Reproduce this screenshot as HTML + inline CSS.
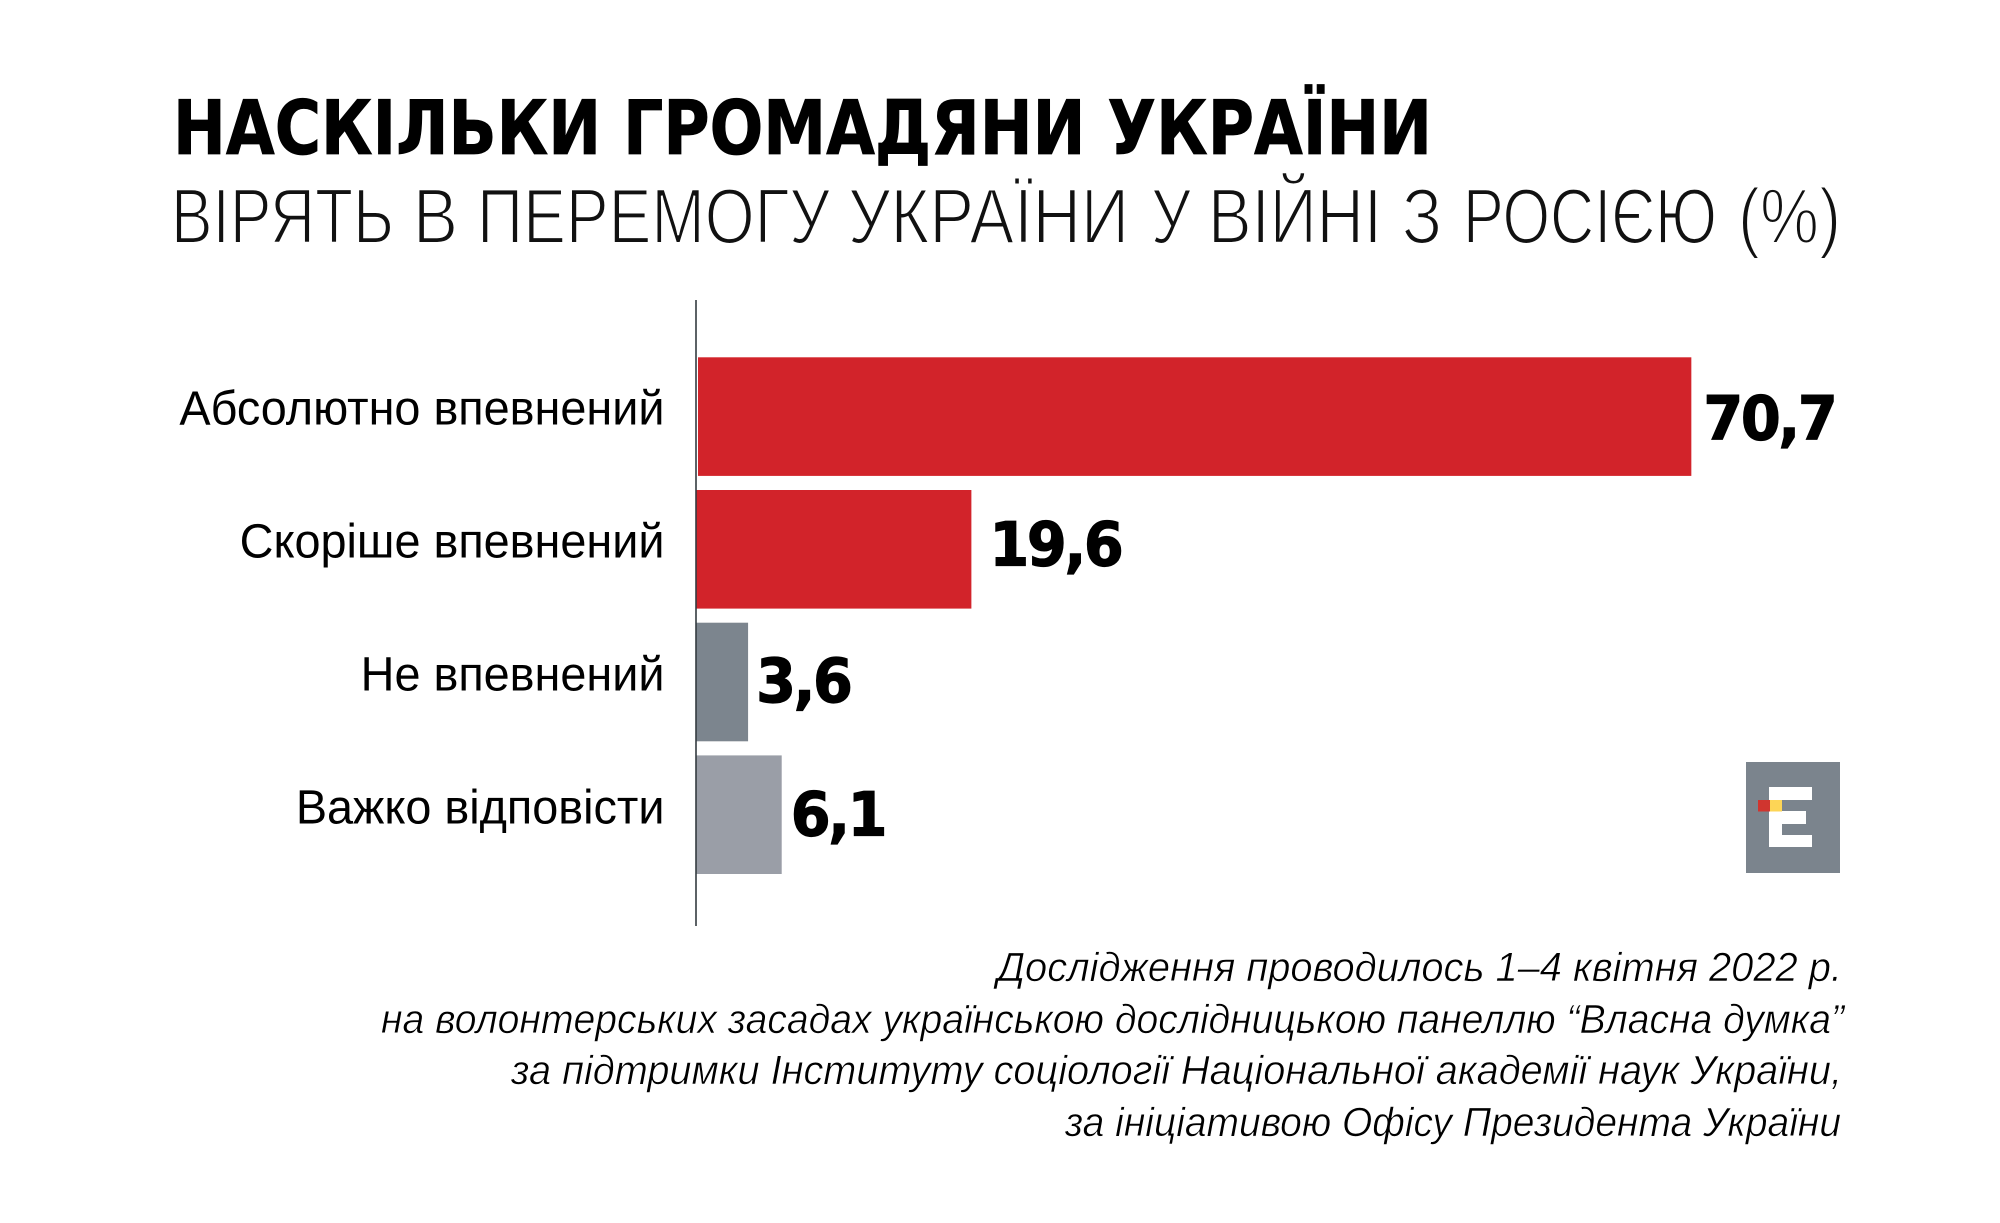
<!DOCTYPE html>
<html lang="uk">
<head>
<meta charset="utf-8">
<title>Наскільки громадяни України вірять в перемогу</title>
<style>
  html, body { margin: 0; padding: 0; background: #fff; }
  svg { display: block; }
  .title { font-family: "DejaVu Sans", "Liberation Sans", sans-serif; font-weight: 700; font-size: 75px; fill: #000; stroke: #000; stroke-width: .8px; }
  .subtitle { font-family: "Liberation Sans", "DejaVu Sans", sans-serif; font-size: 78px; fill: #111; stroke: #fff; stroke-width: 2.1px; }
  .category { font-family: "Liberation Sans", "DejaVu Sans", sans-serif; font-size: 48px; fill: #000; }
  .value { font-family: "DejaVu Sans", "Liberation Sans", sans-serif; font-weight: 700; font-size: 61px; letter-spacing: -2.5px; fill: #000; stroke: #000; stroke-width: 1.2px; }
  .note { font-family: "Liberation Sans", "DejaVu Sans", sans-serif; font-style: italic; font-size: 41px; fill: #000; stroke: #fff; stroke-width: .6px; }
</style>
</head>
<body>
<svg id="chart" xmlns="http://www.w3.org/2000/svg" width="2000" height="1223" viewBox="0 0 2000 1223">
  <rect width="2000" height="1223" fill="#fff"/>
  <text class="title" x="173" y="154" textLength="1259" lengthAdjust="spacingAndGlyphs">НАСКІЛЬКИ ГРОМАДЯНИ УКРАЇНИ</text>
  <text class="subtitle" y="243"><tspan x="171" textLength="223" lengthAdjust="spacingAndGlyphs">ВІРЯТЬ</tspan> <tspan x="413" textLength="45" lengthAdjust="spacingAndGlyphs">В</tspan> <tspan x="477" textLength="353" lengthAdjust="spacingAndGlyphs">ПЕРЕМОГУ</tspan> <tspan x="848" textLength="281" lengthAdjust="spacingAndGlyphs">УКРАЇНИ</tspan> <tspan x="1151" textLength="40" lengthAdjust="spacingAndGlyphs">У</tspan> <tspan x="1208" textLength="174" lengthAdjust="spacingAndGlyphs">ВІЙНІ</tspan> <tspan x="1402" textLength="40" lengthAdjust="spacingAndGlyphs">З</tspan> <tspan x="1463" textLength="254" lengthAdjust="spacingAndGlyphs">РОСІЄЮ</tspan> <tspan x="1738" textLength="103" lengthAdjust="spacingAndGlyphs">(%)</tspan></text>

  <g id="bars"></g>
  <g id="categories"></g>
  <g id="values"></g>

  <line x1="696" y1="300" x2="696" y2="926" stroke="#333b40" stroke-width="1.6"/>

  <g>
    <rect x="1746" y="762" width="94" height="111" fill="#7b848d"/>
    <rect x="1769" y="787" width="13" height="60" fill="#fff"/>
    <rect x="1769" y="787" width="43" height="13" fill="#fff"/>
    <rect x="1769" y="811" width="37" height="13" fill="#fff"/>
    <rect x="1769" y="835" width="43" height="12" fill="#fff"/>
    <rect x="1758" y="800" width="12" height="11.5" fill="#d0352f"/>
    <rect x="1770" y="800" width="12" height="11.5" fill="#fdd556"/>
  </g>

  <g>
    <text class="note" x="997" y="981" textLength="845" lengthAdjust="spacingAndGlyphs">Дослідження проводилось 1–4 квітня 2022 р.</text>
    <text class="note" x="381" y="1033" textLength="1463" lengthAdjust="spacingAndGlyphs">на волонтерських засадах українською дослідницькою панеллю “Власна думка”</text>
    <text class="note" x="511" y="1084" textLength="1331" lengthAdjust="spacingAndGlyphs">за підтримки Інституту соціології Національної академії наук України,</text>
    <text class="note" x="1065" y="1136" textLength="776" lengthAdjust="spacingAndGlyphs">за ініціативою Офісу Президента України</text>
  </g>
</svg>
<script>
const categories = ["Абсолютно впевнений", "Скоріше впевнений", "Не впевнений", "Важко відповісти"];
const seriesValues = [70.7, 19.6, 3.6, 6.1];
const valueLabels = ["70,7", "19,6", "3,6", "6,1"];

function xScale(v) { return 696 + v * 14.05; }
function yBandTop(i) { return 357.3 + i * 132.7; }
const bandHeight = 118.6;
const barColor = function (i) { return ["#d2232a", "#d2232a", "#7c858e", "#9a9ea7"][i]; };
const labelTweak = function (i) {
  if (i === 0) return { bar: 2, dx: 15, dy: 23 };
  if (i === 1) return { bar: 0, dx: 21, dy: 16 };
  if (i === 2) return { bar: 1.5, dx: 11, dy: 20 };
  return { bar: 0, dx: 12, dy: 21 };
};

const NS = "http://www.w3.org/2000/svg";
const barsG = document.getElementById("bars");
const catsG = document.getElementById("categories");
const valsG = document.getElementById("values");

seriesValues.forEach(function (v, i) {
  const t = labelTweak(i);
  const top = yBandTop(i);
  const end = xScale(v) + t.bar;
  const start = i === 0 ? xScale(0) + t.bar : xScale(0);

  const bar = document.createElementNS(NS, "rect");
  bar.setAttribute("x", start);
  bar.setAttribute("y", top);
  bar.setAttribute("width", end - start);
  bar.setAttribute("height", bandHeight);
  bar.setAttribute("fill", barColor(i));
  
  
  barsG.appendChild(bar);

  const cat = document.createElementNS(NS, "text");
  cat.setAttribute("class", "category");
  cat.setAttribute("text-anchor", "end");
  cat.setAttribute("transform", "translate(664.5," + (357 + i * 133 + 67.5) + ") scale(0.975,1)");
  cat.textContent = categories[i];
  
  
  catsG.appendChild(cat);

  const val = document.createElementNS(NS, "text");
  val.setAttribute("class", "value");
  val.setAttribute("transform", "translate(" + (end + t.dx - 3) + "," + (top + bandHeight / 2 + t.dy) + ") scale(0.94,1)");
  val.textContent = valueLabels[i];
  
  
  valsG.appendChild(val);
});
</script>
</body>
</html>
